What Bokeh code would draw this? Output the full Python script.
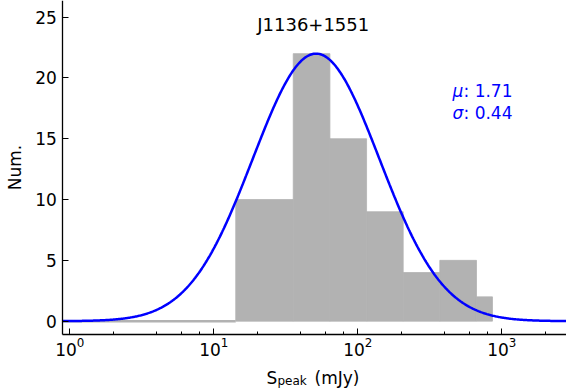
import numpy as np
from bokeh.plotting import figure
from bokeh.models import Range1d, Label, FixedTicker, LogAxis, LinearAxis, LogScale
from bokeh.embed import file_html
from bokeh.resources import INLINE

# histogram (log-spaced bin edges in mJy) and counts
bin_left = [14.2, 35.6, 64.0, 115.0, 206.5, 371.0, 667.0]
bin_right = [35.6, 64.0, 115.0, 206.5, 371.0, 667.0, 861.0]
counts = [10, 22, 15, 9, 4, 5, 2]

# Gaussian fit in log10 space
mu = 1.71
sigma = 0.44
amp = 22.0

source_name = "J1136+1551"
y_ticks = [0, 5, 10, 15, 20, 25]

# axes limits
xlim = (0.894, 2813.0)
ylim = (-1.07, 26.37)

FONT = "DejaVu Sans"
GRAY = "#b2b2b2"

# frame covers the whole canvas; axes are placed at fixed locations
p = figure(width=566, height=389, x_axis_type=None, y_axis_type=None,
           x_range=Range1d(0.330, 2813), y_range=Range1d(-5.62, 26.37),
           output_backend="svg", toolbar_location=None,
           min_border=0)
p.x_scale = LogScale()
p.outline_line_color = None
p.background_fill_color = "white"
p.border_fill_color = "white"

p.quad(left=bin_left, right=bin_right, bottom=0, top=counts,
       fill_color=GRAY, line_color=GRAY, line_width=0.8)
p.line(x=[xlim[0], bin_left[0]], y=[0, 0], line_color=GRAY, line_width=2.5)

lx = np.linspace(np.log10(xlim[0]), 3.5, 600)
gy = amp * np.exp(-(lx - mu) ** 2 / (2 * sigma ** 2))
p.line(x=10 ** lx, y=gy, line_color="blue", line_width=2.5)

xaxis = LogAxis(fixed_location=ylim[0], bounds=xlim)
yaxis = LinearAxis(fixed_location=xlim[0], bounds=ylim,
                   ticker=FixedTicker(ticks=y_ticks))
p.add_layout(xaxis, "below")
p.add_layout(yaxis, "left")

for ax in (xaxis, yaxis):
    ax.axis_line_color = "black"
    ax.axis_line_width = 1.3
    ax.major_tick_in = 6
    ax.major_tick_out = 0
    ax.minor_tick_in = 3
    ax.minor_tick_out = 0
    ax.major_label_text_font = FONT
    ax.major_label_text_font_size = "17px"
    ax.major_label_text_color = "black"
    ax.major_tick_line_color = "black"
    ax.minor_tick_line_color = "black"

yaxis.minor_tick_line_color = None
yaxis.major_label_standoff = 6
yaxis.axis_label = "Num."
yaxis.axis_label_text_font = FONT
yaxis.axis_label_text_font_size = "17px"
yaxis.axis_label_text_font_style = "normal"
yaxis.axis_label_text_color = "black"
yaxis.axis_label_standoff = 7
xaxis.major_label_standoff = 3

# x axis label with subscript (screen units from the bottom-left corner)
p.add_layout(Label(x=266, y=12, x_units="screen", y_units="screen", text="S",
                   text_font=FONT, text_font_size="17px", text_color="black",
                   text_baseline="alphabetic"))
p.add_layout(Label(x=277, y=9, x_units="screen", y_units="screen", text="peak",
                   text_font=FONT, text_font_size="12px", text_color="black",
                   text_baseline="alphabetic"))
p.add_layout(Label(x=314, y=12, x_units="screen", y_units="screen", text="(mJy)",
                   text_font=FONT, text_font_size="17px", text_color="black",
                   text_baseline="alphabetic"))

# title inside plot
p.add_layout(Label(x=49, y=24.4, text=source_name, text_font=FONT,
                   text_font_size="18px", text_color="black",
                   text_align="center", text_baseline="middle"))

# fit parameters
p.add_layout(Label(x=452, y=299, x_units="screen", y_units="screen", text="μ",
                   text_font=FONT, text_font_size="17px", text_color="blue",
                   text_font_style="italic", text_baseline="middle"))
p.add_layout(Label(x=463, y=299, x_units="screen", y_units="screen", text=f": {mu:.2f}",
                   text_font=FONT, text_font_size="17px", text_color="blue",
                   text_baseline="middle"))
p.add_layout(Label(x=452, y=277, x_units="screen", y_units="screen", text="σ",
                   text_font=FONT, text_font_size="17px", text_color="blue",
                   text_font_style="italic", text_baseline="middle"))
p.add_layout(Label(x=463, y=277, x_units="screen", y_units="screen", text=f": {sigma:.2f}",
                   text_font=FONT, text_font_size="17px", text_color="blue",
                   text_baseline="middle"))

open("out.html", "w").write(file_html(p, INLINE))
